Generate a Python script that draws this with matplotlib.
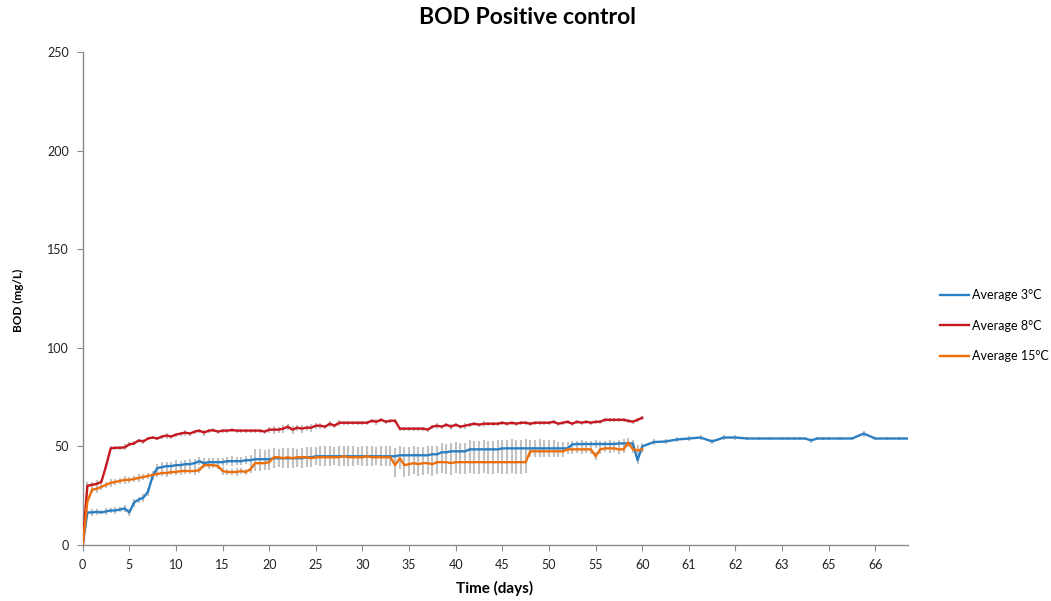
import numpy as np
import matplotlib
matplotlib.use("Agg")
import matplotlib.pyplot as plt

plt.rcParams['font.family'] = ['Lato', 'DejaVu Sans']

# ---------------- data ----------------
days = [0.0, 0.5, 1.0, 1.5, 2.0, 2.5, 3.0, 3.5, 4.0, 4.5, 5.0,
        5.5, 6.0, 6.5, 7.0, 7.5, 8.0, 8.5, 9.0, 9.5, 10.0,
        10.5, 11.0, 11.5, 12.0, 12.5, 13.0, 13.5, 14.0, 14.5, 15.0,
        15.5, 16.0, 16.5, 17.0, 17.5, 18.0, 18.5, 19.0, 19.5, 20.0,
        20.5, 21.0, 21.5, 22.0, 22.5, 23.0, 23.5, 24.0, 24.5, 25.0,
        25.5, 26.0, 26.5, 27.0, 27.5, 28.0, 28.5, 29.0, 29.5, 30.0,
        30.5, 31.0, 31.5, 32.0, 32.5, 33.0, 33.5, 34.0, 34.5, 35.0,
        35.5, 36.0, 36.5, 37.0, 37.5, 38.0, 38.5, 39.0, 39.5, 40.0,
        40.5, 41.0, 41.5, 42.0, 42.5, 43.0, 43.5, 44.0, 44.5, 45.0,
        45.5, 46.0, 46.5, 47.0, 47.5, 48.0, 48.5, 49.0, 49.5, 50.0,
        50.5, 51.0, 51.5, 52.0, 52.5, 53.0, 53.5, 54.0, 54.5, 55.0,
        55.5, 56.0, 56.5, 57.0, 57.5, 58.0, 58.5, 59.0, 59.5, 60.0,
        60.25, 60.5, 60.75, 61.0, 61.25, 61.5, 61.75, 62.0, 62.25, 62.5,
        62.75, 63.0, 63.25, 63.5, 63.75, 64.0, 64.25, 64.5, 64.75, 65.0,
        65.25, 65.5, 65.75, 66.0, 66.25, 66.5, 66.75]

avg_3c = [0, 16.5, 16.5, 16.8, 16.5, 17, 17.5, 17.5, 18, 18.5, 16.5,
          21.5, 23, 24, 27, 35, 39, 39.5, 40, 40, 40.5,
          40.5, 41, 41, 41.5, 42.5, 41.5, 42, 42, 42, 42,
          42.5, 42.5, 42.5, 42.5, 43, 43, 43.5, 43.5, 43.5, 43.5,
          44, 44, 44, 44, 44, 44, 44, 44.5, 44.5, 45,
          45, 45, 45, 45, 45, 45, 45, 45, 45, 45,
          45, 45, 45, 45, 45, 45, 45, 45.5, 45.5, 45.5,
          45.5, 45.5, 45.5, 45.5, 46, 46, 47, 47, 47.5, 47.5,
          47.5, 47.5, 48.5, 48.5, 48.5, 48.5, 48.5, 48.5, 48.5, 49,
          49, 49, 49, 49, 49, 49, 49, 49, 49, 49,
          49, 49, 49, 49, 51, 51.2, 51.2, 51.2, 51.2, 51.2,
          51.2, 51.2, 51.2, 51.2, 51.5, 51.5, 51.5, 51.5, 43, 50,
          52.2, 52.5, 53.5, 54, 54.5, 52.5, 54.5, 54.5, 54, 54,
          54, 54, 54, 54, 54, 54, 53, 54, 54, 54,
          54, 54, 56.5, 54, 54, 54, 54]

err_3c = [0, 1.5, 2, 1.5, 1, 2, 1.5, 2, 1.5, 2, 2,
          2, 1.5, 2, 2, 2, 2, 2.5, 2, 2, 2.5,
          2, 2, 2.5, 2, 2, 2.5, 2, 2, 2, 2,
          2, 2.5, 2, 2, 2, 2.5, 5, 5, 4.5, 5,
          5, 4.5, 5, 5, 5, 4.5, 5, 5, 5, 4.5,
          5, 5, 5, 4.5, 5, 5, 5, 5, 4.5, 5,
          5, 5, 4.5, 5, 5, 5, 4, 4.5, 4, 4,
          4.5, 4, 4, 4.5, 4, 4, 4.5, 4, 4, 4.5,
          4, 4, 4.5, 4, 4, 4.5, 4, 4, 4.5, 4,
          4, 4.5, 4, 4, 4.5, 4, 4, 4.5, 4, 4,
          4, 3, 3, 3, 1.5, 1.5, 2, 1.5, 1.5, 2,
          1.5, 1.5, 2, 1.5, 1.5, 2, 1.5, 1.5, 2, 1.5,
          1.5, 1.5, 1.5, 1.5, 1.5, 1.5, 1.5, 1.5, 1, 1,
          1, 1, 1, 1, 1, 1, 1.5, 1, 1, 1,
          1, 1, 1.5, 1, 1, 1, 1]

avg_8c = [0, 30, 30.5, 31, 32, 40, 49, 49.3, 49.3, 49.5, 51,
          51.5, 53, 52.5, 54, 54.5, 54, 55, 55.5, 55, 56,
          56.5, 57, 56.5, 57.5, 58, 57, 58, 58.2, 57.5, 58,
          58, 58.3, 58, 58, 58, 58, 58, 58, 57.5, 58.5,
          58.5, 58.5, 59, 60, 58.5, 59.5, 59, 59.5, 59.5, 60.5,
          60.5, 60, 61.5, 60.5, 62, 62, 62, 62, 62, 62,
          62, 63, 62.5, 63.5, 62.5, 63, 63, 59, 59, 59,
          59, 59, 59, 58.5, 60, 60.5, 60, 61, 60, 61,
          60, 60.5, 61, 61.5, 61, 61.5, 61.5, 61.5, 61.5, 62,
          61.5, 62, 61.5, 62, 62, 61.5, 62, 62, 62, 62,
          62.5, 61.5, 62, 62.5, 61.5, 62.5, 62, 62.5, 62, 62.5,
          62.5, 63.5, 63.5, 63.5, 63.5, 63.5, 63, 62.5, 63.5, 64.5]

err_8c = [0, 2, 1.5, 2, 1, 1, 1, 1, 1, 1.5, 1,
          1, 1, 1.5, 1, 1, 1, 1, 1.5, 1, 1,
          1, 1.5, 1, 1, 1, 1.5, 1, 1, 1, 1,
          1, 1, 1, 1, 1, 1, 1, 1, 1, 1.5,
          2, 1.5, 2, 1.5, 2, 1.5, 2, 1.5, 2, 1.5,
          1.5, 1, 1.5, 1, 1.5, 1, 1, 1, 1, 1,
          1, 1, 1.5, 1, 1, 1, 1, 1, 1, 1,
          1, 1, 1, 1, 1, 1.5, 1, 1, 1.5, 1,
          1, 1.5, 1, 1, 1, 1.5, 1, 1, 1, 1,
          1, 1, 1, 1, 1, 1, 1, 1, 1, 1,
          1, 1, 1, 1, 1, 1, 1, 1, 1, 1,
          1, 1, 1, 1, 1, 1, 1, 1, 1, 1]

avg_15c = [0, 22, 28, 28.5, 29.5, 30.5, 31.5, 32, 32.5, 33, 33,
           33.5, 34, 34.5, 35, 35.5, 36, 36.5, 36.5, 37, 37,
           37.5, 37.5, 37.5, 37.5, 38, 40.5, 40.5, 40.5, 40, 37.5,
           37, 37, 37, 37.5, 37, 38.5, 41.5, 41.5, 41.5, 42,
           44.5, 44.5, 44, 44.5, 44, 44.5, 44.5, 44.5, 44, 44.5,
           44.5, 44.5, 44.5, 44.5, 44.5, 45, 44.5, 44.5, 44.5, 44.5,
           45, 44.5, 44.5, 44.5, 44.5, 44.5, 40.5, 44, 40.5, 41,
           41.5, 41, 41.5, 41.5, 41, 42, 42, 42, 41.5, 42,
           42, 42, 42, 42, 42, 42, 42, 42, 42, 42,
           42, 42, 42, 42, 42, 47.5, 47.5, 47.5, 47.5, 47.5,
           47.5, 47.5, 47.5, 48.5, 48.5, 48.5, 48.5, 48.5, 48.5, 45,
           48.5, 49, 49, 49, 48.5, 48.5, 52, 48.5, 48, 48.5]

err_15c = [0, 1.5, 1.5, 2, 1.5, 1.5, 2, 1.5, 1.5, 2, 1.5,
           1.5, 2, 1.5, 1.5, 2, 1.5, 1.5, 2, 1.5, 1.5,
           2, 1.5, 1.5, 2, 1.5, 1.5, 2, 1.5, 1.5, 2,
           1.5, 1.5, 2, 1.5, 1.5, 2, 4, 4, 3.5, 4,
           4, 3.5, 4, 4, 4, 3.5, 4, 4, 4, 3.5,
           4, 4, 4, 3.5, 4, 4, 4, 4, 3.5, 4,
           4, 4, 3.5, 4, 4, 4, 6, 5.5, 6, 6,
           5.5, 6, 6, 5.5, 6, 6, 5.5, 6, 6, 5.5,
           6, 6, 5.5, 6, 6, 5.5, 6, 6, 5.5, 6,
           6, 5.5, 6, 6, 5.5, 3, 3, 3, 3, 3,
           3, 3, 3, 2.5, 2.5, 2, 2.5, 2, 2.5, 2,
           2.5, 2, 2.5, 2, 2.5, 2, 2.5, 2, 2.5, 2]

tick_days = [0, 5, 10, 15, 20, 25, 30, 35, 40, 45, 50, 55, 60, 61, 62, 63, 65, 66]
tick_labels = ['0', '5', '10', '15', '20', '25', '30', '35', '40', '45', '50', '55',
               '60', '61', '62', '63', '65', '66']
y_ticks = [0, 50, 100, 150, 200, 250]

# category-like axis: each labelled tick is equally spaced
knot_t = np.array([-10.0] + tick_days + [80.0])
knot_u = np.array([-2.0] + list(range(len(tick_days))) + [31.0])


def fwd(t):
    return np.interp(np.asarray(t, dtype=float), knot_t, knot_u)


def inv(u):
    return np.interp(np.asarray(u, dtype=float), knot_u, knot_t)


# ---------------- figure ----------------
W, H = 1051, 601
fig = plt.figure(figsize=(W / 100, H / 100), dpi=100)
ax = fig.add_axes([82.7 / W, 1 - 545 / H, (908 - 82.7) / W, (545 - 52) / H])
ax.set_xscale('function', functions=(fwd, inv))

d = np.array(days)
n_short = len(avg_8c)

ecol = '#c2c2c2'
ew = 1.5
ax.errorbar(d, avg_3c, yerr=err_3c, fmt='none', ecolor=ecol, elinewidth=ew, capsize=0, zorder=1)
ax.errorbar(d[:n_short], avg_8c, yerr=err_8c, fmt='none', ecolor=ecol, elinewidth=ew, capsize=0, zorder=1)
ax.errorbar(d[:n_short], avg_15c, yerr=err_15c, fmt='none', ecolor=ecol, elinewidth=ew, capsize=0, zorder=1)

l1, = ax.plot(d, avg_3c, color='#2a7fc3', lw=1.7, zorder=3, label='Average 3°C')
l2, = ax.plot(d[:n_short], avg_8c, color='#c8171e', lw=1.7, zorder=3, label='Average 8°C')
l3, = ax.plot(d[:n_short], avg_15c, color='#ee6f0a', lw=1.7, zorder=4, label='Average 15°C')

ax.set_xlim(0, 66.7)
ax.set_ylim(0, 250)
ax.set_xticks(tick_days)
ax.set_xticklabels(tick_labels)
ax.xaxis.set_minor_locator(matplotlib.ticker.NullLocator())
ax.set_yticks(y_ticks)

for s in ['top', 'right']:
    ax.spines[s].set_visible(False)
for s in ['left', 'bottom']:
    ax.spines[s].set_color('#8a8a8a')
    ax.spines[s].set_linewidth(1.0)
ax.tick_params(axis='both', direction='out', length=4, width=0.8, color='#8a8a8a',
               labelsize=9, labelcolor='#222222', pad=6)

fig.text(527 / W, 1 - 17 / H, 'BOD Positive control', ha='center', va='center',
         fontsize=16.5, fontweight='bold')
fig.text(495 / W, 1 - 588 / H, 'Time (days)', ha='center', va='center',
         fontsize=11, fontweight='bold')
fig.text(18 / W, 1 - 300 / H, 'BOD (mg/L)', ha='center', va='center', rotation=90,
         fontsize=8.5, fontweight='bold')

fig.legend(handles=[l1, l2, l3], loc='upper left', bbox_to_anchor=(940 / W, 1 - 289 / H),
           frameon=False, fontsize=9, handlelength=2.3, handletextpad=0.3,
           labelspacing=1.5, borderpad=0, borderaxespad=0)

fig.savefig('out.png', dpi=100)
